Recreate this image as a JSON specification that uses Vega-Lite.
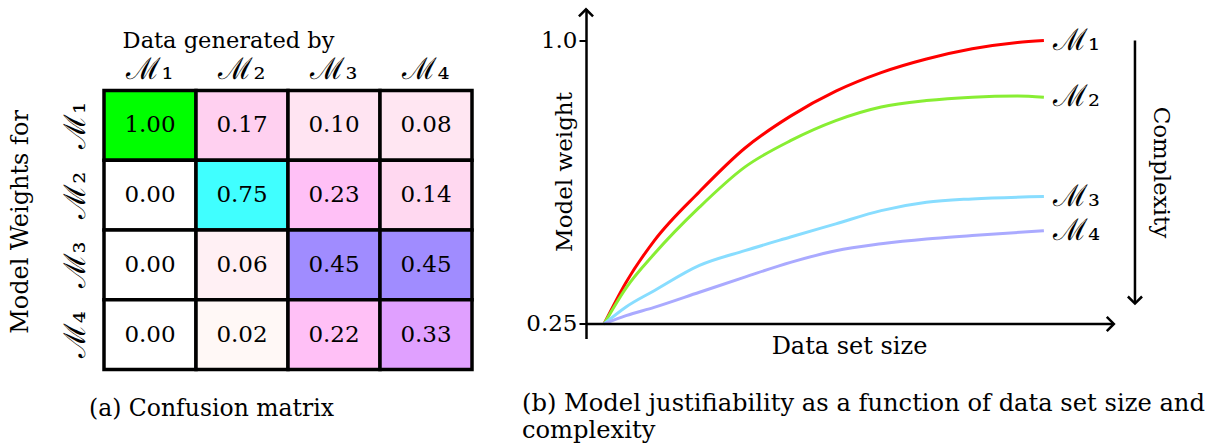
{
  "$schema": "https://vega.github.io/schema/vega-lite/v6.json",
  "background": "white",
  "padding": {"left": 8, "top": 3.5, "right": 5, "bottom": 0},
  "config": {
    "view": {"stroke": null},
    "font": "DejaVu Serif",
    "title": {"font": "DejaVu Serif", "fontWeight": "normal", "color": "black"},
    "axis": {"labelFont": "DejaVu Serif", "titleFont": "DejaVu Serif", "titleFontWeight": "normal", "labelColor": "black", "titleColor": "black", "grid": false}
  },
  "resolve": {"scale": {"color": "independent"}},
  "datasets": {
    "cm": [
      {"row": "ℳ₁", "col": "ℳ₁", "key": "11", "v": 1.00},
      {"row": "ℳ₁", "col": "ℳ₂", "key": "12", "v": 0.17},
      {"row": "ℳ₁", "col": "ℳ₃", "key": "13", "v": 0.10},
      {"row": "ℳ₁", "col": "ℳ₄", "key": "14", "v": 0.08},
      {"row": "ℳ₂", "col": "ℳ₁", "key": "21", "v": 0.00},
      {"row": "ℳ₂", "col": "ℳ₂", "key": "22", "v": 0.75},
      {"row": "ℳ₂", "col": "ℳ₃", "key": "23", "v": 0.23},
      {"row": "ℳ₂", "col": "ℳ₄", "key": "24", "v": 0.14},
      {"row": "ℳ₃", "col": "ℳ₁", "key": "31", "v": 0.00},
      {"row": "ℳ₃", "col": "ℳ₂", "key": "32", "v": 0.06},
      {"row": "ℳ₃", "col": "ℳ₃", "key": "33", "v": 0.45},
      {"row": "ℳ₃", "col": "ℳ₄", "key": "34", "v": 0.45},
      {"row": "ℳ₄", "col": "ℳ₁", "key": "41", "v": 0.00},
      {"row": "ℳ₄", "col": "ℳ₂", "key": "42", "v": 0.02},
      {"row": "ℳ₄", "col": "ℳ₃", "key": "43", "v": 0.22},
      {"row": "ℳ₄", "col": "ℳ₄", "key": "44", "v": 0.33}
    ],
    "curves": [
      {"m": "ℳ₁", "x": 0, "w": 0.25},
      {"m": "ℳ₁", "x": 0.5, "w": 0.36},
      {"m": "ℳ₁", "x": 1.14, "w": 0.47},
      {"m": "ℳ₁", "x": 2.17, "w": 0.60},
      {"m": "ℳ₁", "x": 3.2, "w": 0.715},
      {"m": "ℳ₁", "x": 4.24, "w": 0.80},
      {"m": "ℳ₁", "x": 5.27, "w": 0.866},
      {"m": "ℳ₁", "x": 6.3, "w": 0.915},
      {"m": "ℳ₁", "x": 7.33, "w": 0.951},
      {"m": "ℳ₁", "x": 8.37, "w": 0.978},
      {"m": "ℳ₁", "x": 9.4, "w": 0.995},
      {"m": "ℳ₁", "x": 10, "w": 1.0},
      {"m": "ℳ₂", "x": 0, "w": 0.25},
      {"m": "ℳ₂", "x": 0.5, "w": 0.345},
      {"m": "ℳ₂", "x": 1.14, "w": 0.435},
      {"m": "ℳ₂", "x": 2.17, "w": 0.559},
      {"m": "ℳ₂", "x": 3.2, "w": 0.665},
      {"m": "ℳ₂", "x": 4.24, "w": 0.735},
      {"m": "ℳ₂", "x": 5.27, "w": 0.788},
      {"m": "ℳ₂", "x": 6.3, "w": 0.824},
      {"m": "ℳ₂", "x": 7.33, "w": 0.841},
      {"m": "ℳ₂", "x": 8.37, "w": 0.85},
      {"m": "ℳ₂", "x": 9.4, "w": 0.853},
      {"m": "ℳ₂", "x": 10, "w": 0.85},
      {"m": "ℳ₃", "x": 0, "w": 0.25},
      {"m": "ℳ₃", "x": 0.5, "w": 0.295},
      {"m": "ℳ₃", "x": 1.14, "w": 0.338},
      {"m": "ℳ₃", "x": 2.17, "w": 0.405},
      {"m": "ℳ₃", "x": 3.2, "w": 0.444},
      {"m": "ℳ₃", "x": 4.24, "w": 0.48},
      {"m": "ℳ₃", "x": 5.27, "w": 0.515},
      {"m": "ℳ₃", "x": 6.3, "w": 0.55},
      {"m": "ℳ₃", "x": 7.33, "w": 0.572},
      {"m": "ℳ₃", "x": 8.37, "w": 0.581},
      {"m": "ℳ₃", "x": 10, "w": 0.587},
      {"m": "ℳ₄", "x": 0, "w": 0.25},
      {"m": "ℳ₄", "x": 0.5, "w": 0.272},
      {"m": "ℳ₄", "x": 1.14, "w": 0.294},
      {"m": "ℳ₄", "x": 2.17, "w": 0.334},
      {"m": "ℳ₄", "x": 3.2, "w": 0.374},
      {"m": "ℳ₄", "x": 4.24, "w": 0.413},
      {"m": "ℳ₄", "x": 5.27, "w": 0.444},
      {"m": "ℳ₄", "x": 6.3, "w": 0.462},
      {"m": "ℳ₄", "x": 7.33, "w": 0.475},
      {"m": "ℳ₄", "x": 8.37, "w": 0.484},
      {"m": "ℳ₄", "x": 10, "w": 0.497}
    ]
  },
  "hconcat": [
    {
      "width": 368,
      "height": 361,
      "data": {"name": "cm"},
      "title": {"text": "(a) Confusion matrix", "orient": "bottom", "anchor": "start", "frame": "group", "dx": -15, "offset": 26, "fontSize": 23.5},
      "encoding": {
        "x": {"field": "col", "type": "nominal", "sort": null, "scale": {"paddingInner": 0, "paddingOuter": 0},
          "axis": {"orient": "top", "offset": -82, "domain": false, "ticks": false, "tickSize": 0, "labelAngle": 0, "labelFontSize": 30, "labelPadding": 6, "title": "Data generated by", "titleFontSize": 22.5, "titlePadding": 2, "titleX": 124, "titleAlign": "center"}},
        "y": {"field": "row", "type": "nominal", "sort": null, "scale": {"paddingInner": 0, "paddingOuter": 0.5878, "align": 1},
          "axis": {"domain": false, "ticks": false, "tickSize": 0, "labelAngle": 270, "labelAlign": "center", "labelBaseline": "bottom", "labelFontSize": 30, "labelPadding": 14, "title": "Model Weights for", "titleFontSize": 24, "titlePadding": 28, "titleY": 213}}
      },
      "layer": [
        {
          "mark": {"type": "rect", "stroke": "black", "strokeWidth": 3.5},
          "encoding": {
            "color": {"field": "key", "type": "nominal", "legend": null,
              "scale": {
                "domain": ["11", "12", "13", "14", "21", "22", "23", "24", "31", "32", "33", "34", "41", "42", "43", "44"],
                "range": ["#00ff00", "#ffd0f0", "#ffe4f2", "#ffe6f2", "#ffffff", "#40ffff", "#ffc0f6", "#ffd8f0", "#ffffff", "#fff0f4", "#a08cff", "#a08cff", "#ffffff", "#fff8f6", "#ffc0f6", "#e0a0ff"]
              }}
          }
        },
        {
          "mark": {"type": "text", "fontSize": 23, "color": "black", "baseline": "middle"},
          "encoding": {"text": {"field": "v", "type": "quantitative", "format": ".2f"}}
        }
      ]
    },
    {
      "width": 600,
      "height": 330,
      "title": {"text": ["(b) Model justifiability as a function of data set size and", "complexity"], "orient": "bottom", "anchor": "start", "frame": "group", "dx": -64, "offset": 33.5, "fontSize": 24.2, "lineHeight": 27},
      "layer": [
        {
          "data": {"name": "curves"},
          "mark": {"type": "line", "strokeWidth": 3, "interpolate": "monotone"},
          "encoding": {
            "x": {"field": "x", "type": "quantitative", "scale": {"domain": [-0.409, 13.23], "nice": false, "zero": false},
              "axis": {"title": "Data set size", "labels": false, "ticks": false, "domain": false, "titleFontSize": 24, "titlePadding": -4, "titleX": 263, "titleAlign": "center"}},
            "y": {"field": "w", "type": "quantitative", "scale": {"domain": [0.2116, 1.0847], "nice": false, "zero": false},
              "axis": {"values": [0.25, 1], "labelExpr": "datum.value == 1 ? '1.0' : '0.25'", "domainColor": "black", "domainWidth": 2.5, "tickColor": "black", "tickWidth": 2, "tickSize": 7, "labelFontSize": 23, "labelPadding": 2, "title": "Model weight", "titleFontSize": 23, "titleX": -22, "titleY": 163, "titleBaseline": "middle", "titleAlign": "center", "titleAngle": 270}},
            "color": {"field": "m", "type": "nominal", "legend": null,
              "scale": {"domain": ["ℳ₁", "ℳ₂", "ℳ₃", "ℳ₄"], "range": ["#ff0000", "#88ee33", "#88ddff", "#aaaaff"]}}
          }
        },
        {
          "data": {"name": "curves"},
          "transform": [{"filter": "datum.x == 10"}],
          "mark": {"type": "text", "align": "left", "baseline": "middle", "dx": 9, "fontSize": 30, "color": "black"},
          "encoding": {
            "x": {"field": "x", "type": "quantitative"},
            "y": {"field": "w", "type": "quantitative"},
            "text": {"field": "m", "type": "nominal"}
          }
        },
        {
          "data": {"values": [{}]},
          "mark": {"type": "rule", "color": "black", "strokeWidth": 2.5},
          "encoding": {
            "x": {"datum": -0.409, "type": "quantitative"},
            "x2": {"datum": 11.55},
            "y": {"datum": 0.25, "type": "quantitative"}
          }
        },
        {
          "data": {"values": [{}]},
          "mark": {"type": "point", "shape": "M-1,-1L0,0L-1,1", "filled": false, "stroke": "black", "strokeWidth": 2.5, "size": 200, "opacity": 1},
          "encoding": {
            "x": {"datum": 11.59, "type": "quantitative"},
            "y": {"datum": 0.25, "type": "quantitative"}
          }
        },
        {
          "data": {"values": [{}]},
          "mark": {"type": "point", "shape": "M-1,1L0,0L1,1", "filled": false, "stroke": "black", "strokeWidth": 2.5, "size": 200, "opacity": 1},
          "encoding": {
            "x": {"datum": -0.409, "type": "quantitative"},
            "y": {"datum": 1.0827, "type": "quantitative"}
          }
        },
        {
          "data": {"values": [{}]},
          "mark": {"type": "rule", "color": "black", "strokeWidth": 2.5},
          "encoding": {
            "x": {"datum": 12.07, "type": "quantitative"},
            "y": {"datum": 1.0, "type": "quantitative"},
            "y2": {"datum": 0.306}
          }
        },
        {
          "data": {"values": [{}]},
          "mark": {"type": "point", "shape": "M-1,-1L0,0L1,-1", "filled": false, "stroke": "black", "strokeWidth": 2.5, "size": 200, "opacity": 1},
          "encoding": {
            "x": {"datum": 12.07, "type": "quantitative"},
            "y": {"datum": 0.304, "type": "quantitative"}
          }
        },
        {
          "data": {"values": [{}]},
          "mark": {"type": "text", "angle": 90, "align": "center", "baseline": "middle", "fontSize": 23, "color": "black", "text": "Complexity"},
          "encoding": {
            "x": {"datum": 12.66, "type": "quantitative"},
            "y": {"datum": 0.651, "type": "quantitative"}
          }
        }
      ]
    }
  ],
  "spacing": 48
}
